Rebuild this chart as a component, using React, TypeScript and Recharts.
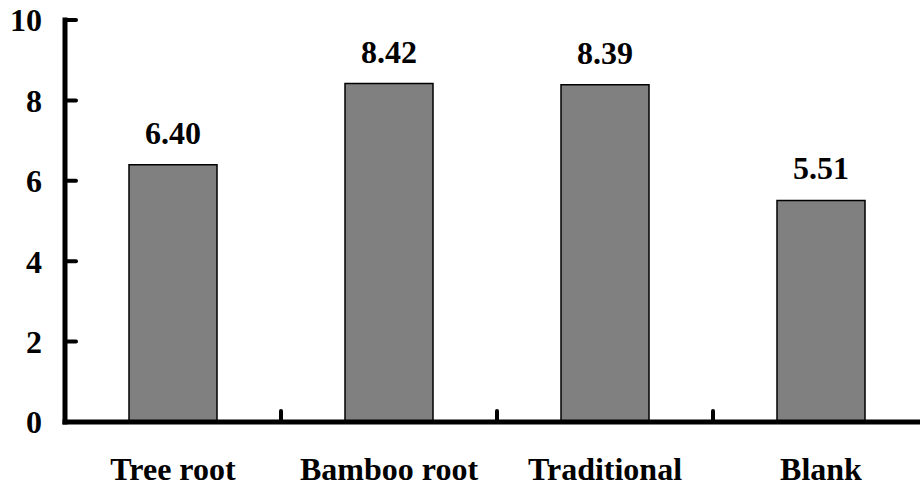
import { Bar, BarChart, LabelList, XAxis, YAxis } from "recharts";

const categories = ["Tree root", "Bamboo root", "Traditional", "Blank"];
const values = [6.4, 8.42, 8.39, 5.51];
const yTicks = [0, 2, 4, 6, 8, 10];

const data = categories.map((name, i) => ({ name, value: values[i] }));

const CHART_W = 940;
const CHART_H = 487;
const Y_AXIS_W = 65;
const MARGIN_RIGHT = 11;
const PLOT_W = CHART_W - Y_AXIS_W - MARGIN_RIGHT;
const X_TICK_MARGIN = 35;
const Y_TICK_MARGIN = 23;
const FONT_SIZE = 32;
const font = "'Liberation Serif', 'Times New Roman', serif";

function XTick(props: any) {
  const { x, y, payload, index } = props;
  const band = PLOT_W / categories.length;
  const axisY = y - X_TICK_MARGIN;
  return (
    <g>
      {index > 0 && (
        <line
          x1={x - band / 2}
          x2={x - band / 2}
          y1={axisY}
          y2={axisY - 11}
          stroke="#000"
          strokeWidth={4}
          strokeLinecap="round"
        />
      )}
      <text
        x={x}
        y={y}
        dy="0.71em"
        textAnchor="middle"
        fontFamily={font}
        fontWeight="bold"
        fontSize={FONT_SIZE}
        fill="#000"
      >
        {payload.value}
      </text>
    </g>
  );
}

function YTick(props: any) {
  const { x, y, payload } = props;
  const axisX = x + Y_TICK_MARGIN;
  return (
    <g>
      <line
        x1={axisX}
        x2={axisX + 11}
        y1={y}
        y2={y}
        stroke="#000"
        strokeWidth={4}
        strokeLinecap="round"
      />
      <text
        x={x}
        y={y}
        dy="0.355em"
        textAnchor="end"
        fontFamily={font}
        fontWeight="bold"
        fontSize={FONT_SIZE}
        fill="#000"
      >
        {payload.value}
      </text>
    </g>
  );
}

export default function App() {
  return (
    <div
      style={{
        position: "absolute",
        left: 0,
        top: 0,
        width: 920,
        height: 487,
        overflow: "hidden",
        background: "#fff",
      }}
    >
      <BarChart
        width={CHART_W}
        height={CHART_H}
        data={data}
        margin={{ top: 20, right: MARGIN_RIGHT, bottom: 0, left: 0 }}
        barSize={88}
      >
        <XAxis
          dataKey="name"
          height={65}
          tickLine={false}
          tickSize={0}
          tickMargin={X_TICK_MARGIN}
          axisLine={{ stroke: "#000", strokeWidth: 5, strokeLinecap: "square" }}
          tick={<XTick />}
          interval={0}
        />
        <YAxis
          width={Y_AXIS_W}
          domain={[0, 10]}
          ticks={yTicks}
          tickLine={false}
          tickSize={0}
          tickMargin={Y_TICK_MARGIN}
          axisLine={{ stroke: "#000", strokeWidth: 5, strokeLinecap: "square" }}
          tick={<YTick />}
          interval={0}
        />
        <Bar dataKey="value" fill="#808080" stroke="#000" strokeWidth={1.5} isAnimationActive={false}>
          <LabelList
            dataKey="value"
            position="top"
            offset={21}
            formatter={(v: any) => Number(v).toFixed(2)}
            style={{ fontFamily: font, fontWeight: "bold", fontSize: FONT_SIZE, fill: "#000" }}
          />
        </Bar>
      </BarChart>
    </div>
  );
}
